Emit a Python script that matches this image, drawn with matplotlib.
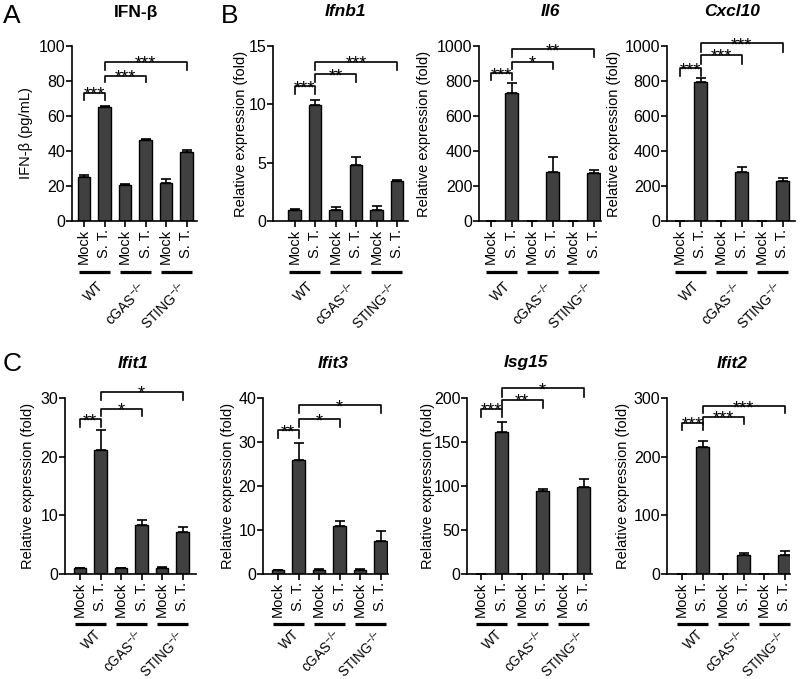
import numpy as np
import matplotlib
matplotlib.use("Agg")
import matplotlib.pyplot as plt

plt.rcParams["font.family"] = ["Liberation Sans", "DejaVu Sans"]
plt.rcParams["mathtext.default"] = "regular"

W, H = 800, 679

# -------------------- data --------------------
treatments = ["Mock", "S. T."] * 3
genotypes = ["WT", "cGAS$^{{-}/{-}}$", "STING$^{{-}/{-}}$"]

ifnb_pgml = [25.2, 65.0, 20.7, 46.0, 21.8, 39.5]
ifnb_pgml_err = [0.8, 0.6, 0.5, 1.0, 2.0, 1.0]

ifnb1 = [0.95, 9.95, 0.95, 4.8, 0.95, 3.4]
ifnb1_err = [0.1, 0.45, 0.25, 0.7, 0.35, 0.12]

il6 = [0, 730, 0, 278, 0, 273]
il6_err = [0, 60, 0, 88, 0, 18]

cxcl10 = [0, 795, 0, 278, 0, 227]
cxcl10_err = [0, 22, 0, 28, 0, 18]

ifit1 = [1.0, 21.2, 1.0, 8.3, 1.0, 7.2]
ifit1_err = [0.1, 3.4, 0.1, 0.9, 0.15, 0.8]

ifit3 = [0.8, 26.0, 0.8, 10.9, 0.9, 7.6]
ifit3_err = [0.05, 3.7, 0.25, 1.2, 0.3, 2.2]

isg15 = [0.5, 161, 0.5, 94.5, 0.3, 99]
isg15_err = [0, 12, 0, 2.5, 0, 9]

ifit2 = [0.5, 217, 0.5, 33, 0.5, 32]
ifit2_err = [0, 10, 0, 3, 0, 8]

# significance brackets: (left bar, right bar, height, tick bottom, label)
br_ifnb = [(0, 1, 73.3, 69, "***"), (1, 3, 83, 79.5, "***"), (1, 5, 91, 86.3, "***")]
br_ifnb1 = [(0, 1, 11.57, 10.9, "***"), (1, 3, 12.6, 11.9, "**"), (1, 5, 13.65, 12.94, "***")]
br_il6 = [(0, 1, 845, 805, "***"), (1, 3, 910, 868, "*"), (1, 5, 981, 939, "**")]
br_cxcl10 = [(0, 1, 872, 829, "***"), (1, 3, 949, 897, "***"), (1, 5, 1015, 966, "***")]
br_ifit1 = [(0, 1, 26.4, 25.1, "**"), (1, 3, 28.2, 26.9, "*"), (1, 5, 31.1, 29.6, "*")]
br_ifit3 = [(0, 1, 32.7, 30.8, "**"), (1, 3, 35.2, 33.5, "*"), (1, 5, 38.4, 36.5, "*")]
br_isg15 = [(0, 1, 188, 178, "***"), (1, 3, 198, 189, "**"), (1, 5, 211, 201, "*")]
br_ifit2 = [(0, 1, 258, 245, "***"), (1, 3, 268, 255, "***"), (1, 5, 286, 274, "***")]

# -------------------- layout (pixels) --------------------
# geo = (spine x, first bar x, axis end x, top y, bottom y)
panels = [
    dict(vals=ifnb_pgml, err=ifnb_pgml_err, ymax=100, ystep=20, br=br_ifnb,
         geo=(72, 84, 197, 46, 221), title="IFN-β", italic=False, tx=136, ty=12,
         ylabel="IFN-β (pg/mL)", lx=26),
    dict(vals=ifnb1, err=ifnb1_err, ymax=15, ystep=5, br=br_ifnb1,
         geo=(273, 294.5, 408, 46, 221), title="Ifnb1", italic=True, tx=345, ty=12,
         ylabel="Relative expression (fold)", lx=241),
    dict(vals=il6, err=il6_err, ymax=1000, ystep=200, br=br_il6,
         geo=(479, 491, 601, 46, 221), title="Il6", italic=True, tx=550, ty=12,
         ylabel="Relative expression (fold)", lx=424),
    dict(vals=cxcl10, err=cxcl10_err, ymax=1000, ystep=200, br=br_cxcl10,
         geo=(667, 680, 795, 46, 221), title="Cxcl10", italic=True, tx=732, ty=12,
         ylabel="Relative expression (fold)", lx=614),
    dict(vals=ifit1, err=ifit1_err, ymax=30, ystep=10, br=br_ifit1,
         geo=(65, 80, 196, 398, 574), title="Ifit1", italic=True, tx=133, ty=363,
         ylabel="Relative expression (fold)", lx=28),
    dict(vals=ifit3, err=ifit3_err, ymax=40, ystep=10, br=br_ifit3,
         geo=(263, 278, 388, 398, 574), title="Ifit3", italic=True, tx=333, ty=363,
         ylabel="Relative expression (fold)", lx=228),
    dict(vals=isg15, err=isg15_err, ymax=200, ystep=50, br=br_isg15,
         geo=(467, 481, 592, 398, 574), title="Isg15", italic=True, tx=526, ty=363,
         ylabel="Relative expression (fold)", lx=428),
    dict(vals=ifit2, err=ifit2_err, ymax=300, ystep=100, br=br_ifit2,
         geo=(667, 682, 790, 398, 574), title="Ifit2", italic=True, tx=732, ty=363,
         ylabel="Relative expression (fold)", lx=623),
]

STEP = 20.5  # px between bar centres
LW = 1.2

fig = plt.figure(figsize=(W / 100, H / 100), dpi=100)


def draw_panel(p):
    left, first, right, top, bottom = p["geo"]
    ax = fig.add_axes([left / W, 1 - bottom / H, (right - left) / W, (bottom - top) / H])
    x = np.arange(len(p["vals"]))
    ax.bar(x, p["vals"], width=0.62, color="#404040", edgecolor="black", linewidth=1.0, zorder=2)
    ax.errorbar(x, p["vals"], yerr=[np.zeros(len(x)), p["err"]], fmt="none", ecolor="black",
                elinewidth=LW, capsize=3.5, capthick=LW, zorder=3)
    ax.set_xlim((left - first) / STEP, (right - first) / STEP)
    ax.set_ylim(0, p["ymax"])
    ax.set_yticks(np.arange(0, p["ymax"] + 1e-9, p["ystep"]))
    for s in ["top", "right"]:
        ax.spines[s].set_visible(False)
    for s in ["left", "bottom"]:
        ax.spines[s].set_linewidth(LW)
    ax.set_xticks(x)
    ax.set_xticklabels(treatments, rotation=90, fontsize=10.5)
    ax.tick_params(axis="x", length=4, width=LW, pad=1.5)
    ax.tick_params(axis="y", length=4, width=LW, pad=0.8, labelsize=11.5)

    # genotype group lines and labels (second row sits a bit tighter)
    row2 = top > 300
    line_off = 50 if row2 else 51
    lab_dx, lab_dy = (4, -53) if row2 else (2, -58)
    hpx = bottom - top
    tr = ax.get_xaxis_transform()
    for k, g in enumerate(genotypes):
        c = 2 * k + 0.5
        ax.plot([c - 0.75, c + 0.75], [-line_off / hpx] * 2, transform=tr, clip_on=False,
                color="black", lw=2.3, solid_capstyle="butt")
        ax.annotate(g, xy=(c, 0), xycoords=tr, xytext=(lab_dx, lab_dy), textcoords="offset pixels",
                    rotation=45, rotation_mode="anchor", ha="right", va="top",
                    fontsize=9.8 if row2 else 10)

    # significance brackets
    for i, j, y, yb, lab in p["br"]:
        ax.plot([i, i, j, j], [yb, y, y, yb], color="black", lw=LW, clip_on=False, zorder=4)
        ax.annotate(lab, xy=((i + j) / 2, y), xytext=(0, -7), textcoords="offset pixels",
                    ha="center", va="baseline", fontsize=13, annotation_clip=False)

    fig.text(p["tx"] / W, 1 - p["ty"] / H, p["title"], ha="center", va="center",
             fontsize=12.5, fontweight="bold", fontstyle="italic" if p["italic"] else "normal")
    fig.text(p["lx"] / W, 1 - ((top + bottom) / 2) / H, p["ylabel"], rotation=90,
             ha="center", va="center", fontsize=10.5)
    return ax


for p in panels:
    draw_panel(p)

# panel letters
fig.text(3 / W, 1 - 16 / H, "A", fontsize=19, va="center", ha="left")
fig.text(221 / W, 1 - 16 / H, "B", fontsize=19, va="center", ha="left")
fig.text(3 / W, 1 - 364 / H, "C", fontsize=19, va="center", ha="left")

fig.savefig("out.png", dpi=100)
